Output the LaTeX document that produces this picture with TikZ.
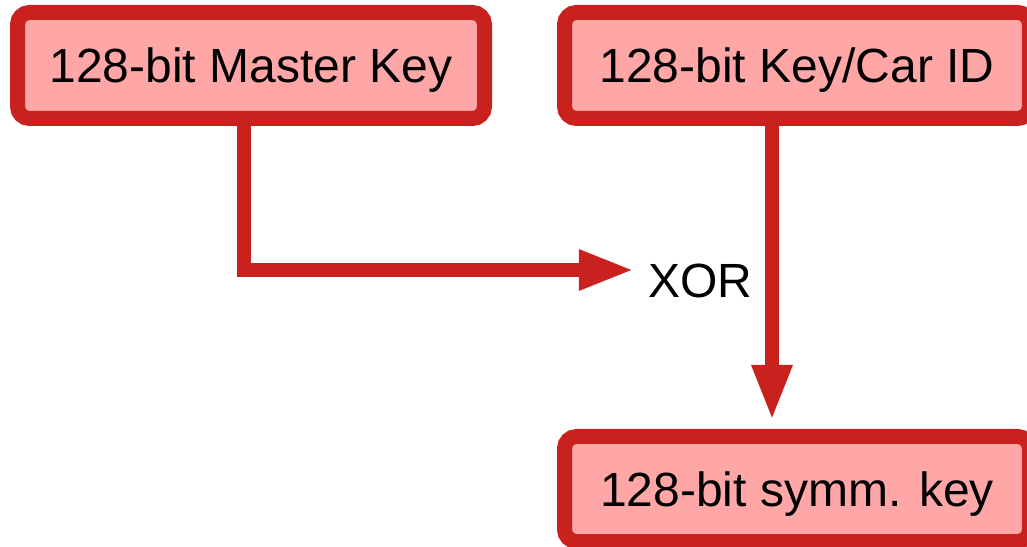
\documentclass[tikz,border=0pt]{standalone}
\usepackage{fontspec}
\setmainfont{Liberation Sans}
\usetikzlibrary{arrows.meta}
\definecolor{keyborder}{RGB}{201,33,30}
\definecolor{keyfill}{RGB}{255,166,166}
\tikzset{
  keybox/.style={draw=keyborder, fill=keyfill, line width=15pt,
    rounded corners=12pt, inner sep=0pt, text height=35pt, text depth=0pt,
    font=\fontsize{48}{57}\selectfont},
  flow/.style={draw=keyborder, line width=14pt,
    -{Triangle[length=56pt,width=37pt]}},
}
\begin{document}
\begin{tikzpicture}[x=1pt,y=1pt]
  \useasboundingbox (0,0) rectangle (1027,546);
  \begin{scope}
    \clip (0,0) rectangle (1027,546);
    \node[keybox, minimum width=467pt, minimum height=106pt] (master) at (251,480.5) {128-bit Master Key};
    \node[keybox, minimum width=465pt, minimum height=106pt] (carid) at (797,480.5) {128-bit Key/Car ID};
    \node[keybox, minimum width=465pt, minimum height=105pt] (symm) at (797,57) {128-bit symm. key};
  \end{scope}
  \node[inner sep=0pt, anchor=base, font=\fontsize{48}{57}\selectfont] (xor) at (700,248) {XOR};
  % Master key runs down, then right into the XOR
  \coordinate (bend) at (244,276);
  \draw[flow, shorten >=13pt] (master.south -| bend) -- (bend) -- (bend -| xor.west);
  % Key/Car ID runs straight down to the derived key
  \coordinate (col) at (772,0);
  \draw[flow, shorten >=8pt] (carid.south -| col) -- (symm.north -| col);
\end{tikzpicture}
\end{document}
